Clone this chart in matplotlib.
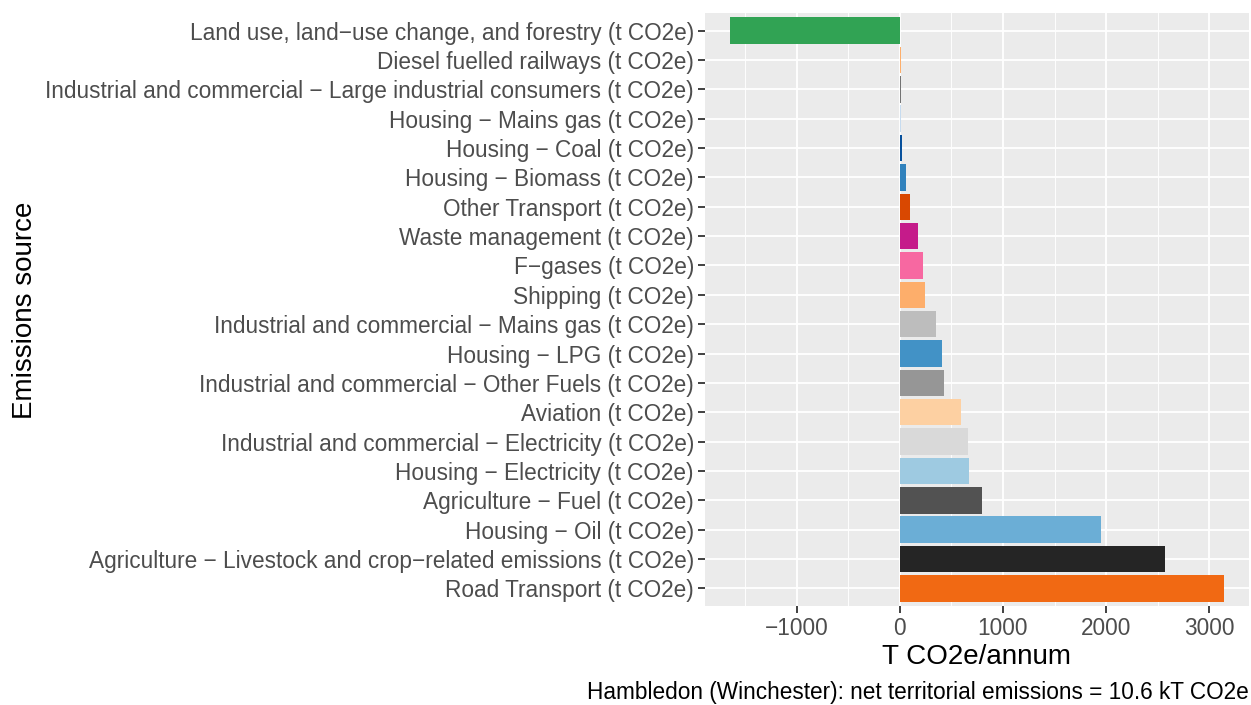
import matplotlib
matplotlib.use("Agg")
import matplotlib.pyplot as plt
from matplotlib.ticker import MultipleLocator

plt.rcParams['font.family'] = ['Liberation Sans', 'DejaVu Sans']

categories = [
    "Land use, land\u2212use change, and forestry (t CO2e)",
    "Diesel fuelled railways (t CO2e)",
    "Industrial and commercial \u2212 Large industrial consumers (t CO2e)",
    "Housing \u2212 Mains gas (t CO2e)",
    "Housing \u2212 Coal (t CO2e)",
    "Housing \u2212 Biomass (t CO2e)",
    "Other Transport (t CO2e)",
    "Waste management (t CO2e)",
    "F\u2212gases (t CO2e)",
    "Shipping (t CO2e)",
    "Industrial and commercial \u2212 Mains gas (t CO2e)",
    "Housing \u2212 LPG (t CO2e)",
    "Industrial and commercial \u2212 Other Fuels (t CO2e)",
    "Aviation (t CO2e)",
    "Industrial and commercial \u2212 Electricity (t CO2e)",
    "Housing \u2212 Electricity (t CO2e)",
    "Agriculture \u2212 Fuel (t CO2e)",
    "Housing \u2212 Oil (t CO2e)",
    "Agriculture \u2212 Livestock and crop\u2212related emissions (t CO2e)",
    "Road Transport (t CO2e)",
]
values = [-1650, 12, 9, 7, 20, 58, 97, 175, 223, 243, 350, 408, 427, 592, 660, 670, 796, 1951, 2573, 3146]
colors = ["#31a354", "#fdae6b", "#737373", "#c6dbef", "#08519c", "#3182bd", "#d94801",
          "#c51b8a", "#f768a1", "#fdae6b", "#bdbdbd", "#4292c6", "#969696", "#fdd0a2",
          "#d9d9d9", "#9ecae1", "#525252", "#6baed6", "#252525", "#f16913"]
caption = "Hambledon (Winchester): net territorial emissions = 10.6 kT CO2e"

fig = plt.figure(figsize=(12.51, 7.05), dpi=100)
ax = fig.add_axes([705/1251, 1-606/705, 544/1251, 593/705])
ax.set_facecolor("#EBEBEB")

n = len(categories)
ypos = [n - 1 - i for i in range(n)]
ax.barh(ypos, values, height=0.9, color=colors, zorder=3)

ax.set_yticks(ypos)
ax.set_yticklabels(categories)
ax.set_ylim(-0.6, n - 0.4)
lo, hi = min(values), max(values)
span = hi - lo
ax.set_xlim(lo - 0.05 * span, hi + 0.05 * span)
ax.xaxis.set_major_locator(MultipleLocator(1000))
ax.xaxis.set_minor_locator(MultipleLocator(500))
ax.set_xticklabels([], minor=True)
ax.xaxis.set_major_formatter(matplotlib.ticker.FuncFormatter(
    lambda v, p: ("\u2212%d" % abs(v)) if v < 0 else "%d" % v))

ax.grid(which="major", color="white", linewidth=1.3, zorder=1)
ax.grid(which="minor", axis="x", color="white", linewidth=0.65, zorder=1)
ax.set_axisbelow(True)
for s in ax.spines.values():
    s.set_visible(False)
ax.tick_params(which="major", length=5, width=1.3, color="#333333",
               labelcolor="#4D4D4D", labelsize=16.25, pad=3)
ax.tick_params(which="minor", length=0)

ax.set_xlabel("T CO2e/annum", fontsize=20, color="black", labelpad=3)
fig.text(25/1251, 1-310/705, "Emissions source", rotation=90, fontsize=20,
         ha="center", va="center", color="black")
fig.text(1249/1251, 1-693/705, caption, ha="right", va="center", fontsize=16.25, color="black")

fig.savefig("out.png", dpi=100)
